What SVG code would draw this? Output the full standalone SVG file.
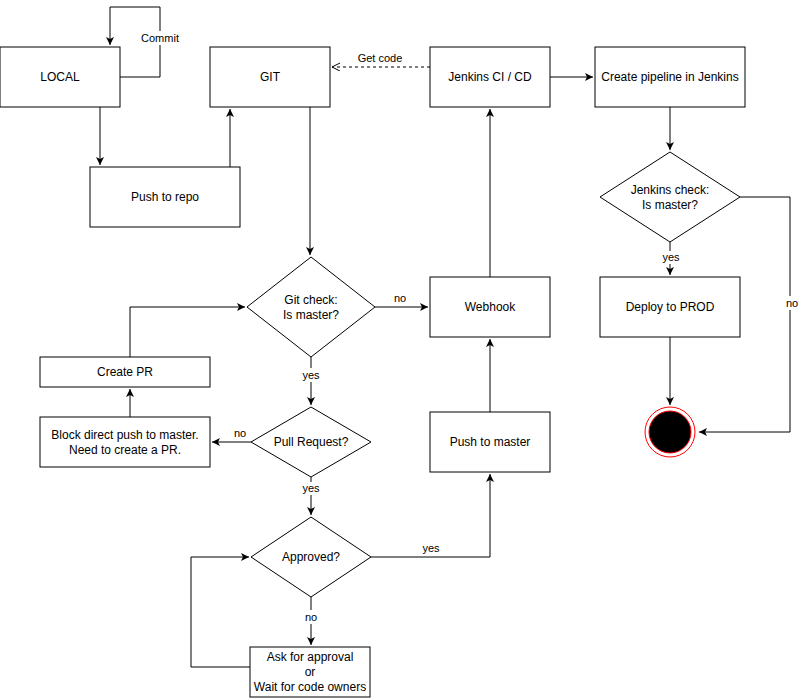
<svg xmlns="http://www.w3.org/2000/svg" width="800" height="699" viewBox="0 0 800 699">
<style>
.n{fill:#fff;stroke:#000;stroke-width:1}
.t{font-family:"Liberation Sans",Arial,sans-serif;font-size:12px;fill:#000;text-anchor:middle;dominant-baseline:central}
.l{font-family:"Liberation Sans",Arial,sans-serif;font-size:11px;fill:#000;text-anchor:middle;dominant-baseline:central}
.e{fill:none;stroke:#000;stroke-width:1}
.bg{fill:#fff}
</style>
<defs>
<marker id="a" markerUnits="userSpaceOnUse" markerWidth="10" markerHeight="10" refX="8" refY="4" orient="auto">
<path d="M0,0 L8,4 L0,8 L2,4 Z" fill="#000"/>
</marker>
<marker id="o" markerUnits="userSpaceOnUse" markerWidth="10" markerHeight="10" refX="8" refY="4" orient="auto">
<path d="M0,0 L8,4 L0,8" fill="none" stroke="#000"/>
</marker>
</defs>
<rect width="800" height="699" fill="#fff"/>
<g id="connectors">
<path class="e" d="M120,77 H160 V7 H110 V45" marker-end="url(#a)"/>
<path class="e" d="M100,107 V165" marker-end="url(#a)"/>
<path class="e" d="M230,167 V109" marker-end="url(#a)"/>
<path class="e" d="M430,67 H332" stroke-dasharray="3,3" marker-end="url(#o)"/>
<path class="e" d="M550,77 H593" marker-end="url(#a)"/>
<path class="e" d="M670,107 V150" marker-end="url(#a)"/>
<path class="e" d="M670,242 V275" marker-end="url(#a)"/>
<path class="e" d="M740,197 H790 V432 H699" marker-end="url(#a)"/>
<path class="e" d="M670,337 V405" marker-end="url(#a)"/>
<path class="e" d="M310,107 V255" marker-end="url(#a)"/>
<path class="e" d="M375,307 H428" marker-end="url(#a)"/>
<path class="e" d="M490,277 V109" marker-end="url(#a)"/>
<path class="e" d="M490,412 V339" marker-end="url(#a)"/>
<path class="e" d="M311,357 V405" marker-end="url(#a)"/>
<path class="e" d="M251,442 H212" marker-end="url(#a)"/>
<path class="e" d="M130,417 V389" marker-end="url(#a)"/>
<path class="e" d="M130,357 V307 H245" marker-end="url(#a)"/>
<path class="e" d="M311,477 V515" marker-end="url(#a)"/>
<path class="e" d="M371,557 H490 V474" marker-end="url(#a)"/>
<path class="e" d="M311,597 V645" marker-end="url(#a)"/>
<path class="e" d="M250,667 H191 V557 H249" marker-end="url(#a)"/>
<rect class="bg" x="139" y="31" width="42" height="14"/>
<text class="l" x="160" y="38">Commit</text>
<text class="l" x="380" y="58">Get code</text>
<rect class="bg" x="662" y="251" width="17" height="13"/>
<text class="l" x="671" y="257">yes</text>
<rect class="bg" x="783" y="296" width="16" height="14"/>
<text class="l" x="792" y="303">no</text>
<text class="l" x="400" y="298">no</text>
<rect class="bg" x="302" y="368" width="18" height="14"/>
<text class="l" x="311" y="375">yes</text>
<text class="l" x="240" y="433">no</text>
<rect class="bg" x="302" y="482" width="18" height="13"/>
<text class="l" x="311" y="488">yes</text>
<text class="l" x="431" y="548">yes</text>
<rect class="bg" x="303" y="610" width="16" height="14"/>
<text class="l" x="311" y="617">no</text>
</g>
<g id="local"><rect class="n" x="0" y="47" width="120" height="60"/><text class="t" x="60" y="77">LOCAL</text></g>
<g id="push-repo"><rect class="n" x="90" y="167" width="150" height="60"/><text class="t" x="165" y="197">Push to repo</text></g>
<g id="git"><rect class="n" x="210" y="47" width="120" height="60"/><text class="t" x="270" y="77">GIT</text></g>
<g id="jenkins"><rect class="n" x="430" y="47" width="120" height="60"/><text class="t" x="490" y="77">Jenkins CI / CD</text></g>
<g id="pipeline"><rect class="n" x="595" y="47" width="150" height="60"/><text class="t" x="670" y="77">Create pipeline in Jenkins</text></g>
<g id="jenkins-check"><path class="n" d="M670,152 L740,197 L670,242 L600,197 Z"/><text class="t" x="670" y="190">Jenkins check:</text><text class="t" x="670" y="205">Is master?</text></g>
<g id="deploy"><rect class="n" x="600" y="277" width="140" height="60"/><text class="t" x="670" y="307">Deploy to PROD</text></g>
<g id="end"><circle cx="670" cy="432" r="25" fill="#fff" stroke="#ff0000" stroke-width="1"/><circle cx="670" cy="432" r="21" fill="#000" stroke="#ff0000" stroke-width="1"/></g>
<g id="git-check"><path class="n" d="M311,257 L375,307 L311,357 L247,307 Z"/><text class="t" x="311" y="300">Git check:</text><text class="t" x="311" y="315">Is master?</text></g>
<g id="webhook"><rect class="n" x="430" y="277" width="120" height="60"/><text class="t" x="490" y="307">Webhook</text></g>
<g id="push-master"><rect class="n" x="430" y="412" width="120" height="60"/><text class="t" x="490" y="442">Push to master</text></g>
<g id="create-pr"><rect class="n" x="40" y="357" width="170" height="30"/><text class="t" x="125" y="372">Create PR</text></g>
<g id="block"><rect class="n" x="40" y="417" width="170" height="50"/><text class="t" x="125" y="435">Block direct push to master.</text><text class="t" x="125" y="450">Need to create a PR.</text></g>
<g id="pull-request"><path class="n" d="M311,407 L371,442 L311,477 L251,442 Z"/><text class="t" x="311" y="442">Pull Request?</text></g>
<g id="approved"><path class="n" d="M311,517 L371,557 L311,597 L251,557 Z"/><text class="t" x="311" y="557">Approved?</text></g>
<g id="ask"><rect class="n" x="250" y="647" width="120" height="50"/><text class="t" x="310" y="657">Ask for approval</text><text class="t" x="310" y="672">or</text><text class="t" x="310" y="687">Wait for code owners</text></g>
</svg>
